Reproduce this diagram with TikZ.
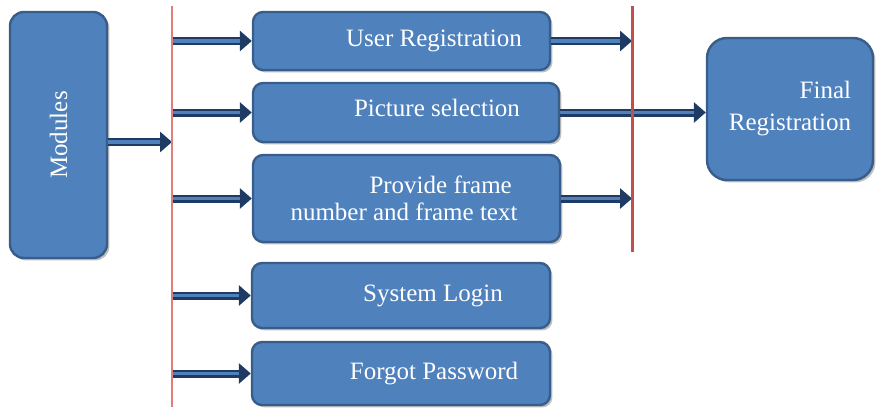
\documentclass[tikz,border=0pt]{standalone}
\usepackage{fontspec}
\setmainfont{Liberation Serif}
\usetikzlibrary{arrows.meta,shadows}

\definecolor{boxblue}{HTML}{4F81BD}
\definecolor{boxline}{HTML}{385D8A}
\definecolor{arrowdark}{HTML}{1F3B63}
\definecolor{barred}{HTML}{C0504D}
\definecolor{barlight}{HTML}{DE7F7C}

\begin{document}
\begin{tikzpicture}[x=0.5pt, y=-0.5pt,
    box/.style={draw=boxline, line width=1.2pt, fill=boxblue, rounded corners=5pt, inner sep=0pt,
      drop shadow={shadow xshift=1.2pt, shadow yshift=-1.2pt, fill=black, opacity=0.25}},
    lbl/.style={text=white, inner sep=0pt, font=\fontsize{12.5}{13.5}\selectfont},
    flow/.style={draw=arrowdark, line width=4pt, -{Triangle[length=6pt, width=10pt]},
      postaction={draw=boxblue, line width=1.6pt, -, shorten >=6pt}}]
  \useasboundingbox (0,0) rectangle (877,407);

  % modules and the five parts
  \node[box, rounded corners=7pt, minimum width=48.5pt, minimum height=123pt,
    label={[lbl, rotate=90]center:Modules}] (mod) at (58.5,135) {};
  \node[box, minimum width=148.5pt, minimum height=29pt,
    label={[lbl, xshift=16.25pt]center:User Registration}] (reg) at (401.5,41) {};
  \node[box, minimum width=153pt, minimum height=29.5pt,
    label={[lbl, xshift=15.5pt, yshift=2.5pt]center:Picture selection}] (pic) at (406,112.5) {};
  \node[box, minimum width=153.5pt, minimum height=43.5pt,
    label={[lbl, align=left, xshift=-1.25pt]center:{\hspace*{39.5pt}Provide frame\\number and frame text}}] (frm) at (406.5,198.5) {};
  \node[box, minimum width=149pt, minimum height=32.5pt,
    label={[lbl, xshift=16pt]center:System Login}] (login) at (401,295.5) {};
  \node[box, minimum width=149pt, minimum height=31.5pt,
    label={[lbl, xshift=16.5pt]center:Forgot Password}] (forgot) at (401,373.5) {};
  \node[box, rounded corners=10pt, minimum width=83pt, minimum height=71pt,
    label={[lbl, align=right, font=\fontsize{12.5}{16}\selectfont]center:{Final\\Registration}}] (final) at (790,109) {};

  % the two bars
  \coordinate (lt) at (172,6);
  \coordinate (lb) at (172,407);
  \coordinate (rt) at (632,6);
  \coordinate (rb) at (632,252);

  \coordinate (modout) at ([yshift=-3.5pt]mod.east);
  \draw[flow] (modout) -- (modout -| lt);
  \foreach \b in {reg,pic,frm,login,forgot} {
    \draw[flow] (\b.west -| lt) -- (\b.west);
  };
  \foreach \b in {reg,frm} {
    \draw[flow] (\b.east) -- (\b.east -| rt);
  };
  \draw[flow] (pic.east) -- (pic.east -| final.west);

  \draw[barlight, line width=1pt] (lt) -- (lb);
  \draw[barred, line width=1.5pt] (rt) -- (rb);
\end{tikzpicture}
\end{document}
